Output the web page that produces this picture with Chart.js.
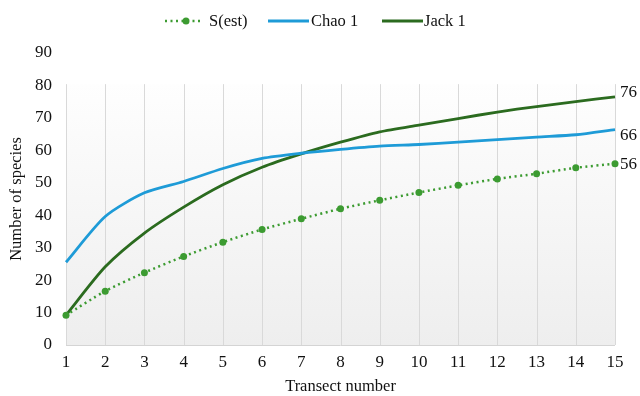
<!DOCTYPE html>
<html><head><meta charset="utf-8">
<script src="https://cdn.jsdelivr.net/npm/chart.js@4/dist/chart.umd.min.js"></script>
<style>html,body{margin:0;padding:0;background:#fff}#w{width:640px;height:396px}</style>
</head><body><div id="w"><canvas id="c" width="640" height="396"></canvas></div>
<script>
const categories = ['1','2','3','4','5','6','7','8','9','10','11','12','13','14','15'];
const sEst  = [9.2,16.6,22.3,27.3,31.7,35.6,38.9,42.0,44.6,47.0,49.2,51.2,52.8,54.6,55.9];
const chao1 = [25.5,39.6,46.9,50.4,54.4,57.5,59.1,60.3,61.3,61.8,62.5,63.3,64.1,64.8,66.4];
const jack1 = [9.2,24.1,34.5,42.5,49.4,54.8,58.9,62.5,65.7,67.8,69.8,71.8,73.5,75.0,76.5];
const endLabels = ['56','66','76'];
const yTicks = [0,10,20,30,40,50,60,70,80,90];

const FONT = "'Liberation Serif','Times New Roman',serif";
const C_S = '#3c9b31', C_CHAO = '#1e9bd7', C_JACK = '#2b6b1f';
const PLOT_TOP_VALUE = 80.4;

const bgPlugin = {
  id:'bg',
  beforeDatasetsDraw(chart){
    const {ctx, chartArea:a, scales} = chart;
    const top = scales.y.getPixelForValue(PLOT_TOP_VALUE);
    const g = ctx.createLinearGradient(0,top,0,a.bottom);
    g.addColorStop(0,'#fefefe');
    g.addColorStop(1,'#eeeeee');
    ctx.save();
    ctx.fillStyle=g; ctx.fillRect(a.left,top,a.right-a.left,a.bottom-top);
    ctx.strokeStyle='#d9d9d9'; ctx.lineWidth=1;
    scales.x.ticks.forEach((t,i)=>{
      const x = Math.round(scales.x.getPixelForTick(i))+0.5;
      ctx.beginPath(); ctx.moveTo(x,top); ctx.lineTo(x,a.bottom); ctx.stroke();
    });
    ctx.strokeStyle='#d4d4d4';
    ctx.beginPath(); ctx.moveTo(a.left,Math.round(a.bottom)+0.5); ctx.lineTo(a.right,Math.round(a.bottom)+0.5); ctx.stroke();
    ctx.restore();
  }
};
const endLabelPlugin = {
  id:'endLabels',
  afterDatasetsDraw(chart){
    const ctx = chart.ctx;
    const dy = [1,6,-4];
    ctx.save();
    ctx.font = '17px '+FONT; ctx.fillStyle='#111'; ctx.textBaseline='middle'; ctx.textAlign='left';
    [0,1,2].forEach(i=>{
      const meta = chart.getDatasetMeta(i);
      const p = meta.data[meta.data.length-1];
      ctx.fillText(endLabels[i], p.x+5, p.y+dy[i]);
    });
    ctx.restore();
  }
};
const legendPlugin = {
  id:'customLegend',
  afterDraw(chart){
    const ctx = chart.ctx;
    ctx.save();
    ctx.font = '16.5px '+FONT; ctx.fillStyle='#111'; ctx.textBaseline='middle'; ctx.textAlign='left';
    const y = 21;
    ctx.strokeStyle=C_S; ctx.lineWidth=2.5; ctx.setLineDash([2,3.5]);
    ctx.beginPath(); ctx.moveTo(165,y); ctx.lineTo(202,y); ctx.stroke();
    ctx.setLineDash([]); ctx.fillStyle=C_S; ctx.beginPath(); ctx.arc(186,y,3.5,0,Math.PI*2); ctx.fill();
    ctx.fillStyle='#111'; ctx.fillText(chart.data.datasets[0].label,209,y+1);
    ctx.strokeStyle=C_CHAO; ctx.lineWidth=3;
    ctx.beginPath(); ctx.moveTo(268,y); ctx.lineTo(309,y); ctx.stroke();
    ctx.fillText(chart.data.datasets[1].label,311,y+1);
    ctx.strokeStyle=C_JACK;
    ctx.beginPath(); ctx.moveTo(382,y); ctx.lineTo(423,y); ctx.stroke();
    ctx.fillText(chart.data.datasets[2].label,424,y+1);
    ctx.restore();
  }
};

new Chart(document.getElementById('c'), {
  type:'line',
  data:{
    labels: categories,
    datasets:[
      {label:'S(est)', data:sEst, borderColor:C_S, backgroundColor:C_S, borderWidth:2.5, borderDash:[2,3.5], pointRadius:3.5, pointBackgroundColor:C_S, pointBorderColor:C_S, pointBorderWidth:0, tension:0.25},
      {label:'Chao 1', data:chao1, borderColor:C_CHAO, borderWidth:2.8, pointRadius:0, tension:0.25},
      {label:'Jack 1', data:jack1, borderColor:C_JACK, borderWidth:2.8, pointRadius:0, tension:0.25}
    ]
  },
  options:{
    responsive:false, animation:false, devicePixelRatio:1,
    layout:{padding:{top:53,right:25,left:0,bottom:0}},
    plugins:{legend:{display:false}, tooltip:{enabled:false}},
    scales:{
      x:{
        offset:false,
        afterFit(axis){ axis.height = 51; },
        grid:{display:false, drawTicks:false},
        border:{display:false},
        ticks:{color:'#111', font:{family:FONT, size:17}, padding:7, maxRotation:0, autoSkip:false},
        title:{display:true, text:'Transect number', color:'#111', font:{family:FONT,size:16.5}, padding:{top:5,bottom:-1}}
      },
      y:{
        min:0, max:90,
        afterBuildTicks(axis){ axis.ticks = yTicks.map(v=>({value:v})); },
        afterFit(axis){ axis.width = 66; },
        grid:{display:false, drawTicks:false},
        border:{display:false},
        ticks:{color:'#111', font:{family:FONT, size:17}, padding:14},
        title:{display:true, text:'Number of species', color:'#111', font:{family:FONT,size:16.5}, padding:{top:7,bottom:7}}
      }
    }
  },
  plugins:[bgPlugin, endLabelPlugin, legendPlugin]
});
</script></body></html>
